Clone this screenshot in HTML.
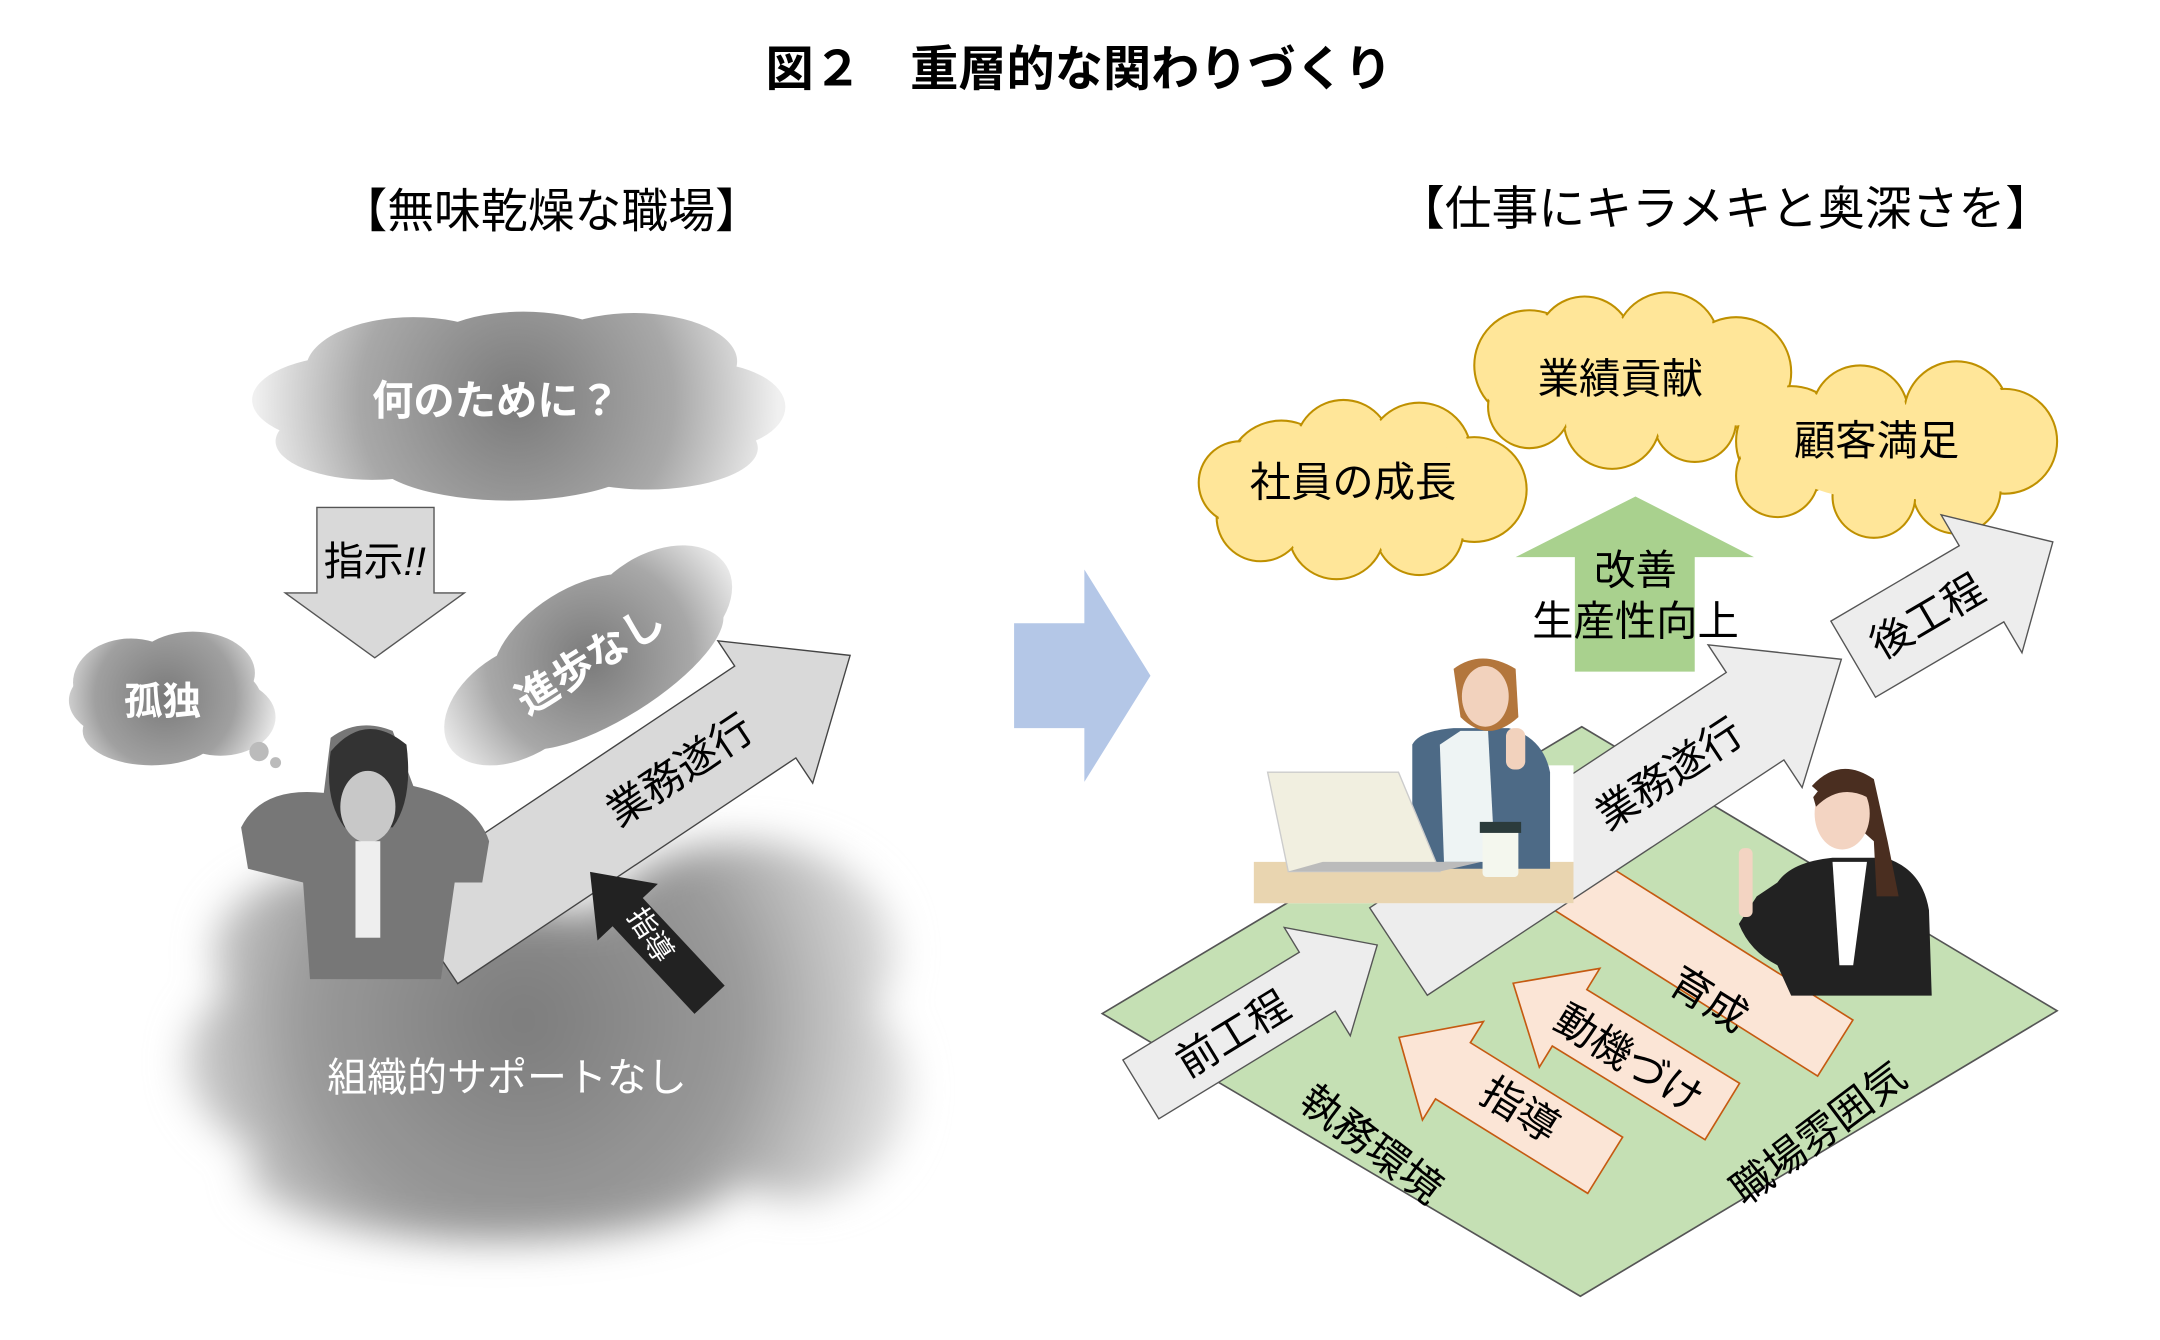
<!DOCTYPE html>
<html><head><meta charset="utf-8"><style>
html,body{margin:0;padding:0;background:#fff;}
svg{display:block;}
text{font-family:"Liberation Sans","Noto Sans CJK JP",sans-serif;}
</style></head><body>
<svg width="2160" height="1340" viewBox="0 0 1552 962" preserveAspectRatio="none" xmlns="http://www.w3.org/2000/svg">
<defs>
<filter id="bl" x="-30%" y="-30%" width="160%" height="160%"><feGaussianBlur stdDeviation="14"/></filter>
<radialGradient id="g1" gradientUnits="userSpaceOnUse" cx="375" cy="290" r="190"><stop offset="0" stop-color="#7a7a7a"/><stop offset="0.6" stop-color="#a8a8a8"/><stop offset="1" stop-color="#f0f0f0"/></radialGradient>
<radialGradient id="g2" gradientUnits="userSpaceOnUse" cx="120" cy="505" r="85"><stop offset="0" stop-color="#7a7a7a"/><stop offset="0.6" stop-color="#a0a0a0"/><stop offset="1" stop-color="#f0f0f0"/></radialGradient>
<radialGradient id="g3" gradientUnits="userSpaceOnUse" cx="0" cy="0" r="125"><stop offset="0" stop-color="#7a7a7a"/><stop offset="0.6" stop-color="#a8a8a8"/><stop offset="1" stop-color="#f0f0f0"/></radialGradient>
<radialGradient id="g4" gradientUnits="userSpaceOnUse" cx="380" cy="740" r="290"><stop offset="0" stop-color="#7c7c7c"/><stop offset="0.55" stop-color="#9a9a9a"/><stop offset="1" stop-color="#e8e8e8"/></radialGradient>
</defs>
<g transform="scale(0.99)">

<text x="783" y="62" text-anchor="middle" font-size="35" font-weight="bold">図２　重層的な関わりづくり</text>
<text x="400" y="165" text-anchor="middle" font-size="34">【無味乾燥な職場】</text>
<text x="1252" y="163" text-anchor="middle" font-size="34">【仕事にキラメキと奥深さを】</text>

<!-- left top cloud -->
<g fill="url(#g1)">
<ellipse cx="255" cy="290" rx="72" ry="32"/>
<ellipse cx="300" cy="268" rx="78" ry="38"/>
<ellipse cx="380" cy="258" rx="75" ry="32"/>
<ellipse cx="460" cy="262" rx="75" ry="35"/>
<ellipse cx="510" cy="295" rx="60" ry="32"/>
<ellipse cx="470" cy="325" rx="80" ry="30"/>
<ellipse cx="370" cy="330" rx="100" ry="33"/>
<ellipse cx="270" cy="320" rx="70" ry="28"/>
<ellipse cx="375" cy="292" rx="160" ry="45"/>
</g>
<text x="360" y="301" text-anchor="middle" font-size="30" font-weight="bold" fill="#fff">何のために？</text>

<!-- down arrow -->
<polygon points="230,368 315,368 315,430 337,430 272,477 207,430 230,430" fill="#d9d9d9" stroke="#555" stroke-width="1"/>
<text x="272" y="417" text-anchor="middle" font-size="29">指示<tspan font-style="italic">!!</tspan></text>

<!-- 孤独 cloud -->
<g fill="url(#g2)">
<ellipse cx="95" cy="495" rx="42" ry="32"/>
<ellipse cx="140" cy="488" rx="45" ry="30"/>
<ellipse cx="160" cy="520" rx="40" ry="28"/>
<ellipse cx="110" cy="530" rx="50" ry="25"/>
<ellipse cx="120" cy="508" rx="70" ry="35"/>
</g>
<circle cx="188" cy="545" r="7" fill="#bbb"/>
<circle cx="200" cy="553" r="4" fill="#bbb"/>
<text x="118" y="518" text-anchor="middle" font-size="28" font-weight="bold" fill="#fff">孤独</text>

<!-- 進歩なし cloud -->
<g transform="translate(428,478) rotate(-32)">
<g fill="url(#g3)">
<ellipse cx="-60" cy="0" rx="60" ry="38"/>
<ellipse cx="0" cy="-15" rx="70" ry="38"/>
<ellipse cx="60" cy="-5" rx="60" ry="40"/>
<ellipse cx="10" cy="20" rx="90" ry="30"/>
</g>
<text x="0" y="11" text-anchor="middle" font-size="30" font-weight="bold" fill="#fff">進歩なし</text>
</g>

<!-- bottom cloud -->
<g filter="url(#bl)" fill="url(#g4)">
<ellipse cx="390" cy="770" rx="255" ry="110"/>
<ellipse cx="540" cy="690" rx="110" ry="80"/>
<ellipse cx="245" cy="690" rx="90" ry="60"/>
<ellipse cx="360" cy="850" rx="180" ry="50"/>
<ellipse cx="580" cy="790" rx="80" ry="80"/>
</g>

<!-- left 業務遂行 arrow -->
<g transform="translate(310,680) rotate(-33.7)">
<polygon points="0,-40 295,-40 295,-62 369,0 295,62 295,40 0,40" fill="#d9d9d9" stroke="#444" stroke-width="1"/>
<text x="220" y="11" text-anchor="middle" font-size="30">業務遂行</text>
</g>

<!-- woman (grayscale) -->
<g>
<path d="M175,600 Q190,570 235,575 L240,535 Q260,520 285,530 L300,570 Q345,580 355,610 L350,640 L330,640 L320,710 L225,710 L220,640 L180,630 Z" fill="#777"/>
<path d="M240,545 Q265,515 295,540 Q300,580 285,600 L250,600 Q235,580 240,545Z" fill="#333"/>
<ellipse cx="267" cy="585" rx="20" ry="26" fill="#c8c8c8"/>
<rect x="258" y="610" width="18" height="70" fill="#eee"/>
</g>
<text x="368" y="791" text-anchor="middle" font-size="29" fill="#fff">組織的サポートなし</text>

<!-- black 指導 -->
<g transform="translate(515,725) rotate(-133.1)">
<polygon points="0,-15 87,-15 87,-30 127,0 87,30 87,15 0,15" fill="#222"/>
</g>
<text transform="translate(472,678) rotate(57)" text-anchor="middle" font-size="21" fill="#fff" y="7">指導</text>

<!-- blue big arrow -->
<polygon points="736,452 787,452 787,413 835,490 787,567 787,528 736,528" fill="#b4c7e7"/>

<!-- green diamond -->
<polygon points="800,735 1148,527 1493,733 1147,940" fill="#c5e0b4" stroke="#555" stroke-width="1.2"/>

<!-- yellow clouds -->
<g stroke="#bf9000" stroke-width="1.5" fill="#ffe699">
<circle cx="930" cy="345" r="40"/><circle cx="975" cy="325" r="35"/><circle cx="1030" cy="330" r="38"/><circle cx="1070" cy="355" r="38"/><circle cx="1030" cy="385" r="32"/><circle cx="970" cy="385" r="35"/><circle cx="915" cy="375" r="32"/><circle cx="900" cy="350" r="30"/>
<circle cx="1110" cy="265" r="40"/><circle cx="1150" cy="250" r="35"/><circle cx="1210" cy="250" r="38"/><circle cx="1260" cy="270" r="40"/><circle cx="1230" cy="305" r="30"/><circle cx="1170" cy="305" r="35"/><circle cx="1110" cy="295" r="30"/>
<circle cx="1300" cy="320" r="40"/><circle cx="1350" cy="300" r="35"/><circle cx="1420" cy="300" r="38"/><circle cx="1455" cy="320" r="38"/><circle cx="1420" cy="355" r="32"/><circle cx="1360" cy="360" r="30"/><circle cx="1290" cy="345" r="30"/>
</g>
<g fill="#ffe699">
<circle cx="930" cy="345" r="38.5"/><circle cx="975" cy="325" r="33.5"/><circle cx="1030" cy="330" r="36.5"/><circle cx="1070" cy="355" r="36.5"/><circle cx="1030" cy="385" r="30.5"/><circle cx="970" cy="385" r="33.5"/><circle cx="915" cy="375" r="30.5"/><circle cx="900" cy="350" r="28.5"/><ellipse cx="985" cy="355" rx="80" ry="35"/>
<circle cx="1110" cy="265" r="38.5"/><circle cx="1150" cy="250" r="33.5"/><circle cx="1210" cy="250" r="36.5"/><circle cx="1260" cy="270" r="38.5"/><circle cx="1230" cy="305" r="28.5"/><circle cx="1170" cy="305" r="33.5"/><circle cx="1110" cy="295" r="28.5"/><ellipse cx="1180" cy="278" rx="80" ry="32"/>
<circle cx="1300" cy="320" r="38.5"/><circle cx="1350" cy="300" r="33.5"/><circle cx="1420" cy="300" r="36.5"/><circle cx="1455" cy="320" r="36.5"/><circle cx="1420" cy="355" r="30.5"/><circle cx="1360" cy="360" r="28.5"/><circle cx="1290" cy="345" r="28.5"/><ellipse cx="1370" cy="328" rx="80" ry="35"/>
</g>
<text x="982" y="360" text-anchor="middle" font-size="30">社員の成長</text>
<text x="1176" y="285" text-anchor="middle" font-size="30">業績貢献</text>
<text x="1362" y="330" text-anchor="middle" font-size="30">顧客満足</text>

<!-- green up arrow -->
<polygon points="1143,487 1143,404 1100,404 1187,360 1273,404 1230,404 1230,487" fill="#a9d18e"/>
<text x="1187" y="424" text-anchor="middle" font-size="30">改善</text>
<text x="1187" y="461" text-anchor="middle" font-size="30">生産性向上</text>

<!-- peach arrows -->
<g transform="translate(1332,760) rotate(-147.8)" fill="#fbe5d6" stroke="#c55a11" stroke-width="1.2">
<polygon points="0,-24 280,-24 280,-40 320,0 280,40 280,24 0,24"/>
</g>
<g transform="translate(1250,806) rotate(-148.5)" fill="#fbe5d6" stroke="#c55a11" stroke-width="1.2">
<polygon points="0,-24 130,-24 130,-42 178,0 130,42 130,24 0,24"/>
</g>
<g transform="translate(1165,845) rotate(-148.2)" fill="#fbe5d6" stroke="#c55a11" stroke-width="1.2">
<polygon points="0,-24 130,-24 130,-42 176,0 130,42 130,24 0,24"/>
</g>
<text transform="translate(1240,725) rotate(32)" text-anchor="middle" font-size="30" y="10">育成</text>
<text transform="translate(1182,768) rotate(32)" text-anchor="middle" font-size="30" y="10">動機づけ</text>
<text transform="translate(1103,805) rotate(32)" text-anchor="middle" font-size="30" y="10">指導</text>

<!-- light gray arrows -->
<g transform="translate(1015,690) rotate(-33.4)">
<polygon points="0,-38 310,-38 310,-62 385,0 310,62 310,38 0,38" fill="#ededed" stroke="#555" stroke-width="1"/>
<text x="235" y="11" text-anchor="middle" font-size="30">業務遂行</text>
</g>
<g transform="translate(1345,478) rotate(-30.4)">
<polygon points="0,-32 108,-32 108,-58 168,0 108,58 108,32 0,32" fill="#ededed" stroke="#555" stroke-width="1"/>
<text x="62" y="11" text-anchor="middle" font-size="30">後工程</text>
</g>
<g transform="translate(828,790) rotate(-31.4)">
<polygon points="0,-25 150,-25 150,-46 201,0 150,46 150,25 0,25" fill="#ededed" stroke="#555" stroke-width="1"/>
<text x="78" y="11" text-anchor="middle" font-size="30">前工程</text>
</g>

<!-- photo: woman at laptop -->
<g>
<rect x="910" y="555" width="232" height="100" fill="#fff"/>
<rect x="910" y="625" width="232" height="30" fill="#e9d5b0"/>
<path d="M1025,540 Q1030,530 1055,528 L1095,528 Q1120,535 1125,560 L1125,630 L1025,630 Z" fill="#4d6a86"/>
<path d="M1045,540 L1060,530 L1080,530 L1085,625 L1048,625 Z" fill="#eef4f4"/>
<path d="M1055,485 Q1075,470 1100,485 L1102,520 Q1080,540 1060,520 Z" fill="#b3763c"/>
<ellipse cx="1078" cy="505" rx="17" ry="22" fill="#f2d2bd"/>
<rect x="1093" y="528" width="14" height="30" rx="6" fill="#f2d2bd"/>
<polygon points="920,560 1015,560 1045,632 935,632" fill="#f1efe0" stroke="#ccc"/>
<polygon points="935,632 1045,632 1075,625 960,625" fill="#bbb"/>
<rect x="1076" y="600" width="26" height="36" rx="3" fill="#f4f7ee"/>
<rect x="1074" y="596" width="30" height="8" fill="#2b3b3b"/>
</g>

<!-- photo: standing woman -->
<g>
<path d="M1290,640 Q1300,625 1330,622 L1368,622 Q1395,630 1400,660 L1402,722 L1300,722 L1290,700 Q1270,690 1262,670 L1275,650 Z" fill="#222"/>
<path d="M1330,625 L1355,625 L1345,700 L1335,700 Z" fill="#fff"/>
<path d="M1315,570 Q1335,548 1360,565 L1370,610 L1378,650 L1362,650 L1360,610 Z" fill="#4a2e20"/>
<ellipse cx="1337" cy="590" rx="20" ry="26" fill="#f3d4c2"/>
<path d="M1316,578 Q1335,552 1360,570 L1355,578 Q1335,568 1318,585Z" fill="#4a2e20"/>
<rect x="1262" y="615" width="10" height="50" rx="4" fill="#f3d4c2"/>
</g>

<!-- diamond labels -->
<text transform="translate(995,830) rotate(37)" text-anchor="middle" font-size="30" y="10">執務環境</text>
<text transform="translate(1320,822) rotate(-37)" text-anchor="middle" font-size="30" y="10">職場雰囲気</text>
</g>
</svg>
</body></html>
